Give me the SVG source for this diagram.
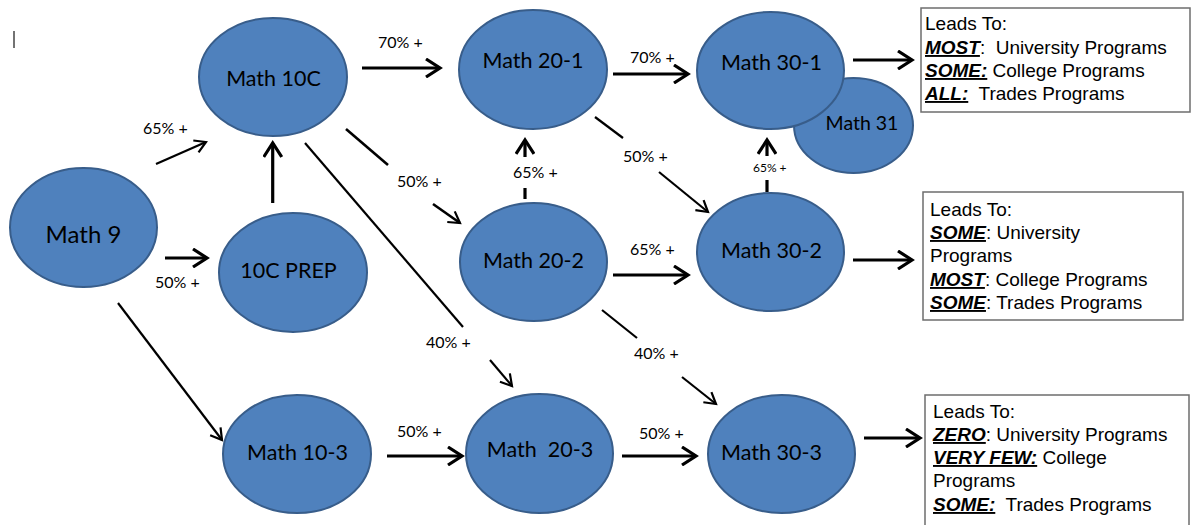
<svg xmlns="http://www.w3.org/2000/svg" width="1191" height="525" viewBox="0 0 1191 525">
<style>
.node ellipse{fill:#4F81BD;stroke:#385D8A;stroke-width:2}
.node text{font-family:Lato,"Open Sans",sans-serif;font-size:21.5px;fill:#000;text-anchor:middle}
.lbl{font-family:Lato,"Open Sans",sans-serif;font-size:16px;fill:#000}
.thick{stroke:#000;stroke-width:3.2;fill:none}
.thin{stroke:#000;stroke-width:2.2;fill:none}
.box rect{fill:#fff;stroke:#6d6d6d;stroke-width:1.5}
.box text{font-family:"Liberation Sans",Arial,sans-serif;font-size:19px;fill:#000}
.u{font-weight:bold;font-style:italic;text-decoration:underline}
</style>
<defs>
<marker id="ah" markerUnits="userSpaceOnUse" markerWidth="20" markerHeight="20" viewBox="0 0 20 20" refX="16" refY="10" orient="auto">
<path d="M2,1 L16,10 L2,19" fill="none" stroke="#000" stroke-width="3.2"/>
</marker>
<marker id="ahs" markerUnits="userSpaceOnUse" markerWidth="20" markerHeight="20" viewBox="0 0 20 20" refX="14" refY="10" orient="auto">
<path d="M3,3.5 L14,10 L3,16.5" fill="none" stroke="#000" stroke-width="2.2"/>
</marker>
</defs>
<line x1="14" y1="31" x2="14" y2="48" stroke="#444" stroke-width="1.5"/>
<g id="connectors">
<line class="thin" x1="156" y1="164" x2="206" y2="142" marker-end="url(#ahs)"/>
<line class="thick" x1="165" y1="258" x2="207" y2="258" marker-end="url(#ah)"/>
<line class="thick" x1="272.7" y1="203" x2="272.7" y2="143" marker-end="url(#ah)"/>
<line class="thin" x1="118" y1="303" x2="222" y2="440" marker-end="url(#ahs)"/>
<line class="thick" x1="362" y1="68" x2="440" y2="68" marker-end="url(#ah)"/>
<line class="thin" x1="346" y1="129" x2="388" y2="165" style="stroke-width:2.6"/>
<line class="thin" x1="433" y1="204" x2="460" y2="223" style="stroke-width:2.6" marker-end="url(#ahs)"/>
<line class="thin" x1="305" y1="143" x2="463" y2="327"/>
<line class="thin" x1="490" y1="360" x2="512" y2="386" marker-end="url(#ahs)"/>
<line class="thick" x1="387" y1="456" x2="462" y2="456" marker-end="url(#ah)"/>
<line class="thick" x1="525" y1="188" x2="525" y2="199"/>
<line class="thick" x1="525" y1="157" x2="525" y2="140" marker-end="url(#ah)"/>
<line class="thick" x1="613" y1="74" x2="688" y2="74" marker-end="url(#ah)"/>
<line class="thin" x1="595" y1="117" x2="623" y2="138"/>
<line class="thin" x1="659" y1="172" x2="708" y2="212" marker-end="url(#ahs)"/>
<line class="thick" x1="767" y1="180" x2="767" y2="192"/>
<line class="thick" x1="767" y1="156" x2="767" y2="140" marker-end="url(#ah)"/>
<line class="thick" x1="613" y1="275" x2="688" y2="275" marker-end="url(#ah)"/>
<line class="thin" x1="602" y1="310" x2="637" y2="338"/>
<line class="thin" x1="682" y1="377" x2="716" y2="404" marker-end="url(#ahs)"/>
<line class="thick" x1="622" y1="456" x2="696" y2="456" marker-end="url(#ah)"/>
<line class="thick" x1="853" y1="60" x2="912" y2="60" marker-end="url(#ah)"/>
<line class="thick" x1="853" y1="260" x2="912" y2="260" marker-end="url(#ah)"/>
<line class="thick" x1="864" y1="438" x2="920" y2="438" marker-end="url(#ah)"/>
</g>
<g id="labels">
<text class="lbl" x="143" y="134">65% +</text>
<text class="lbl" x="378" y="48">70% +</text>
<text class="lbl" x="155" y="288">50% +</text>
<text class="lbl" x="397" y="187">50% +</text>
<text class="lbl" x="426" y="348">40% +</text>
<text class="lbl" x="397" y="437">50% +</text>
<text class="lbl" x="513" y="178">65% +</text>
<text class="lbl" x="630" y="63">70% +</text>
<text class="lbl" x="623" y="162">50% +</text>
<text class="lbl" x="753" y="172" style="font-size:12px">65% +</text>
<text class="lbl" x="630" y="255">65% +</text>
<text class="lbl" x="634" y="359">40% +</text>
<text class="lbl" x="639" y="439">50% +</text>
</g>
<g id="math9" class="node"><ellipse cx="83.5" cy="227.5" rx="73.5" ry="59.5"/><text x="83.5" y="243" style="font-size:24px">Math 9</text></g>
<g id="math10c" class="node"><ellipse cx="273" cy="77" rx="74" ry="59"/><text x="273.5" y="86">Math 10C</text></g>
<g id="prep10c" class="node"><ellipse cx="293" cy="272.5" rx="74" ry="59.5"/><text x="288.5" y="278">10C PREP</text></g>
<g id="math103" class="node"><ellipse cx="297" cy="454" rx="74" ry="59"/><text x="297.5" y="460">Math 10-3</text></g>
<g id="math201" class="node"><ellipse cx="533" cy="69.5" rx="74" ry="59.5"/><text x="533" y="68">Math 20-1</text></g>
<g id="math202" class="node"><ellipse cx="533.5" cy="262" rx="73.5" ry="59"/><text x="533.5" y="268">Math 20-2</text></g>
<g id="math203" class="node"><ellipse cx="539.5" cy="453.5" rx="73.5" ry="59.5"/><text x="540" y="457" xml:space="preserve">Math  20-3</text></g>
<g id="math31" class="node"><ellipse cx="853.5" cy="125.5" rx="59.5" ry="47.5"/><text x="862" y="130" style="font-size:19.5px">Math 31</text></g>
<g id="math301" class="node"><ellipse cx="770.5" cy="70.5" rx="73.5" ry="58.5"/><text x="771.5" y="70">Math 30-1</text></g>
<g id="math302" class="node"><ellipse cx="770.5" cy="252" rx="73.5" ry="59"/><text x="771.5" y="258">Math 30-2</text></g>
<g id="math303" class="node"><ellipse cx="781.5" cy="454" rx="73.5" ry="59"/><text x="771.5" y="460">Math 30-3</text></g>
<g id="box1" class="box">
<rect x="921" y="8" width="269" height="104"/>
<text x="925" y="30">Leads To:</text>
<text x="925" y="54" xml:space="preserve"><tspan class="u">MOST</tspan>:  University Programs</text>
<text x="925" y="77" xml:space="preserve"><tspan class="u">SOME:</tspan> College Programs</text>
<text x="925" y="100" xml:space="preserve"><tspan class="u">ALL:</tspan>  Trades Programs</text>
</g>
<g id="box2" class="box">
<rect x="923" y="192" width="260" height="128"/>
<text x="930" y="216">Leads To:</text>
<text x="930" y="239"><tspan class="u">SOME</tspan>: University</text>
<text x="930" y="262">Programs</text>
<text x="930" y="286"><tspan class="u">MOST</tspan>: College Programs</text>
<text x="930" y="309"><tspan class="u">SOME</tspan>: Trades Programs</text>
</g>
<g id="box3" class="box">
<rect x="925" y="395" width="264" height="140"/>
<text x="933" y="418">Leads To:</text>
<text x="933" y="441"><tspan class="u">ZERO</tspan>: University Programs</text>
<text x="933" y="464"><tspan class="u">VERY FEW:</tspan> College</text>
<text x="933" y="487">Programs</text>
<text x="933" y="511" xml:space="preserve"><tspan class="u">SOME:</tspan>  Trades Programs</text>
</g>
</svg>
